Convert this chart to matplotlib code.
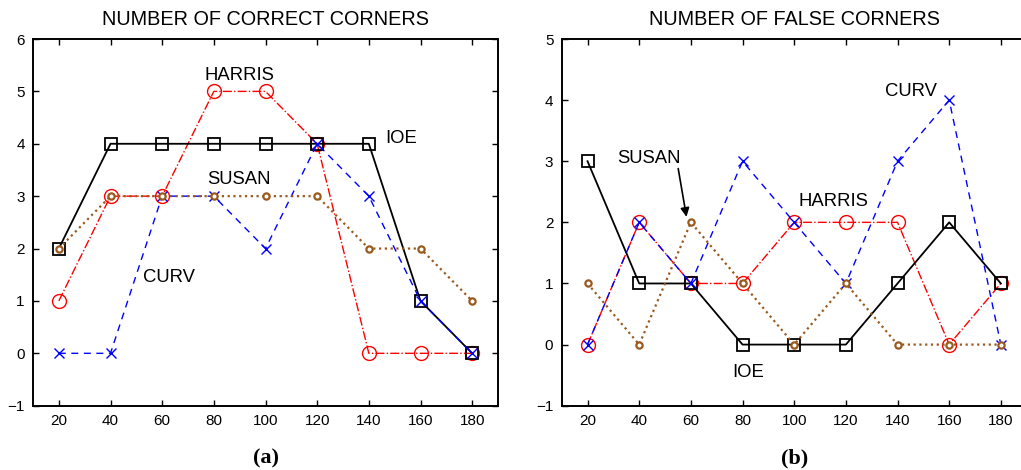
import matplotlib
matplotlib.use("Agg")
import matplotlib.pyplot as plt

plt.rcParams['font.family'] = ['Liberation Sans', 'DejaVu Sans']

x = [20, 40, 60, 80, 100, 120, 140, 160, 180]
xticks = [20, 40, 60, 80, 100, 120, 140, 160, 180]

# (a) number of correct corners
correct_ioe = [2, 4, 4, 4, 4, 4, 4, 1, 0]
correct_harris = [1, 3, 3, 5, 5, 4, 0, 0, 0]
correct_curv = [0, 0, 3, 3, 2, 4, 3, 1, 0]
correct_susan = [2, 3, 3, 3, 3, 3, 2, 2, 1]

# (b) number of false corners
false_ioe = [3, 1, 1, 0, 0, 0, 1, 2, 1]
false_harris = [0, 2, 1, 1, 2, 2, 2, 0, 1]
false_curv = [0, 2, 1, 3, 2, 1, 3, 4, 0]
false_susan = [1, 0, 2, 1, 0, 1, 0, 0, 0]

titles = ["NUMBER OF CORRECT CORNERS", "NUMBER OF FALSE CORNERS"]
captions = ["(a)", "(b)"]

BROWN = '#9a5a1e'
fig = plt.figure(figsize=(10.21, 4.70), dpi=100)

W = 465 / 1021
H = 366.7 / 470
B = 64.3 / 470
ax1 = fig.add_axes([33 / 1021, B, W, H])
ax2 = fig.add_axes([561.7 / 1021, B, W, H])


def draw(ax, ioe, harris, curv, susan, ylim, title, caption):
    ax.plot(x, harris, linestyle='-.', color='#ff0000', lw=1.0, marker='o', ms=10,
            mfc='none', mec='#ff0000', mew=1.0, zorder=2)
    ax.plot(x, ioe, linestyle='-', color='black', lw=1.3, marker='s', ms=8,
            mfc='none', mec='black', mew=1.3, zorder=3)
    ax.plot(x, curv, linestyle=(0, (5, 4)), color='#0000ff', lw=1.0, marker='x', ms=7,
            mec='#0000ff', mew=1.0, zorder=4)
    ax.plot(x, susan, linestyle=(0, (1, 1.6)), color=BROWN, lw=1.6, marker='o', ms=4.5,
            mfc='white', mec=BROWN, mew=1.6, zorder=5)
    ax.set_xlim(10, 190)
    ax.set_ylim(*ylim)
    ax.set_xticks(xticks)
    ax.set_yticks(range(ylim[0], ylim[1] + 1))
    ax.tick_params(direction='in', top=True, right=True, length=4, width=1.0,
                   labelsize=11, pad=6)
    for s in ax.spines.values():
        s.set_linewidth(1.4)
    ax.set_title(title, fontsize=14.3, pad=10)
    ax.text(0.5, -0.143, caption, transform=ax.transAxes, ha='center', va='center',
            fontsize=16, fontweight='bold', family='Liberation Serif')


draw(ax1, correct_ioe, correct_harris, correct_curv, correct_susan, (-1, 6), titles[0], captions[0])
draw(ax2, false_ioe, false_harris, false_curv, false_susan, (-1, 5), titles[1], captions[1])

lab = dict(fontsize=13.3, ha='center', va='center')
ax1.text(90, 5.31, "HARRIS", **lab)
ax1.text(152.5, 4.11, "IOE", **lab)
ax1.text(89.8, 3.31, "SUSAN", **lab)
ax1.text(62.6, 1.44, "CURV", **lab)

ax2.text(145.4, 4.14, "CURV", **lab)
ax2.text(115.1, 2.34, "HARRIS", **lab)
ax2.text(82.3, -0.45, "IOE", **lab)
ax2.text(43.9, 3.04, "SUSAN", **lab)
ax2.annotate("", xy=(58.3, 2.09), xytext=(55.1, 2.88),
             arrowprops=dict(arrowstyle='-|>', color='black', lw=1.2,
                             shrinkA=0, shrinkB=0, mutation_scale=13))

fig.savefig("out.png", dpi=100)
